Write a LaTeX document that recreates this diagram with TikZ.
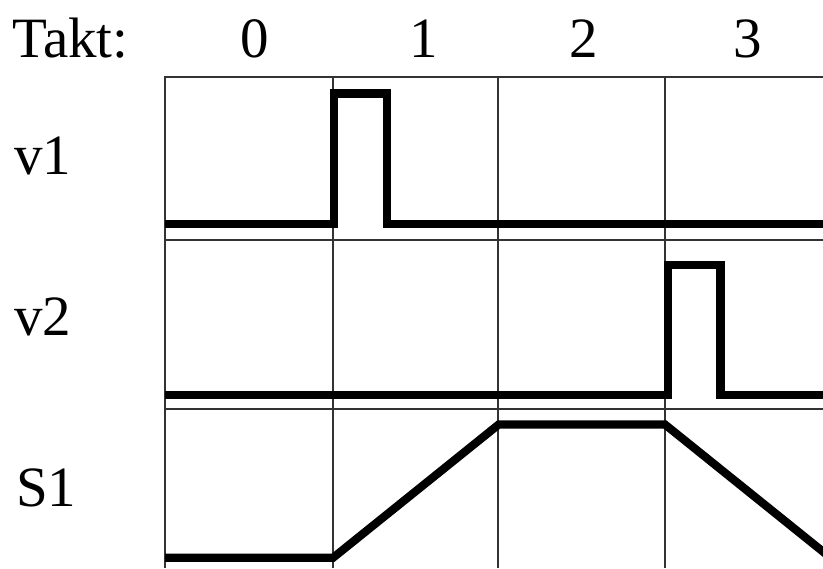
\documentclass[tikz,border=0pt]{standalone}
\usepackage{fontspec}
\setmainfont{Liberation Serif}
\begin{document}
\begin{tikzpicture}[x=1pt,y=-1pt,
  grid/.style={line width=1.3pt,draw=black!80},
  signal/.style={line width=8.2pt,line join=miter,line cap=butt},
  lbl/.style={inner sep=0pt,font=\fontsize{57}{60}\selectfont}]
\useasboundingbox (0,0) rectangle (823,569);
\begin{scope}
\clip (0,0) rectangle (823,569);
% grid
\foreach \x in {165,333,498,665} \draw[grid] (\x,77) -- (\x,568);
\foreach \y in {77,240,409} \draw[grid] (164.35,\y) -- (823,\y);
% signals
\draw[signal] (165,224) -- (333.7,224) -- (333.7,93.5) -- (386.7,93.5) -- (386.7,224) -- (830,224);
\draw[signal] (165,394.7) -- (667.8,394.7) -- (667.8,265) -- (720.5,265) -- (720.5,394.7) -- (830,394.7);
\draw[signal] (165,557.8) -- (333,557.8) -- (498.7,424.5) -- (665,424.5) -- (832,558.9);
\end{scope}
% labels
\node[lbl,anchor=base west] (takt) at (12,58) {Takt:};
\node[lbl,anchor=base] (t0) at (255,58) {0};
\node[lbl,anchor=base] (t1) at (424,58) {1};
\node[lbl,anchor=base] (t2) at (584,58) {2};
\node[lbl,anchor=base] (t3) at (748,58) {3};
\node[lbl,anchor=base west] (v1) at (14,175) {v1};
\node[lbl,anchor=base west] (v2) at (14,336) {v2};
\node[lbl,anchor=base west] (s1) at (16,507) {S1};
\end{tikzpicture}
\end{document}
